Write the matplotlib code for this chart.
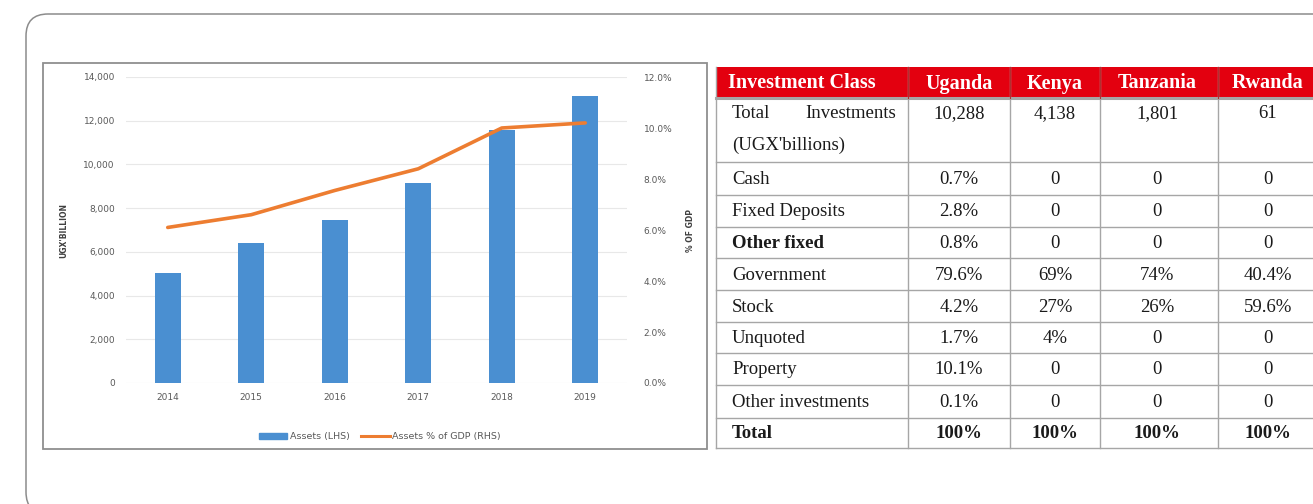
import matplotlib

matplotlib.use("Agg")
import matplotlib.pyplot as plt
from matplotlib.patches import FancyBboxPatch, Rectangle

# chart data
years = ["2014", "2015", "2016", "2017", "2018", "2019"]
assets = [5050, 6400, 7480, 9150, 11560, 13120]
assets_pct_gdp = [6.1, 6.6, 7.55, 8.4, 10.0, 10.2]

# table data
table_header = ["Investment Class", "Uganda", "Kenya", "Tanzania", "Rwanda"]
row_labels = ["Total Investments (UGX'billions)", "Cash", "Fixed Deposits", "Other fixed",
              "Government", "Stock", "Unquoted", "Property", "Other investments", "Total"]
uganda = ["10,288", "0.7%", "2.8%", "0.8%", "79.6%", "4.2%", "1.7%", "10.1%", "0.1%", "100%"]
kenya = ["4,138", "0", "0", "0", "69%", "27%", "4%", "0", "0", "100%"]
tanzania = ["1,801", "0", "0", "0", "74%", "26%", "0", "0", "0", "100%"]
rwanda = ["61", "0", "0", "0", "40.4%", "59.6%", "0", "0", "0", "100%"]
bold_rows = ["Other fixed", "Total"]

W, H = 1313, 504
BLUE = "#4a8fd1"
ORANGE = "#ed7d31"
GREY_TXT = "#595959"


def fig_box(x0, y0, x1, y1):
    # pixel box (top-left origin) -> figure fraction rect
    return [x0 / W, 1 - y1 / H, (x1 - x0) / W, (y1 - y0) / H]


fig = plt.figure(figsize=(W / 100, H / 100), dpi=100)
fig.patch.set_facecolor("white")

# background layer in pixel coordinates
bg = fig.add_axes([0, 0, 1, 1])
bg.set_xlim(0, W)
bg.set_ylim(H, 0)
bg.axis("off")
bg.add_patch(FancyBboxPatch((26, 14), 1360, 500, boxstyle="round,pad=0,rounding_size=22",
                            facecolor="white", edgecolor="#8c8c8c", linewidth=1.1))
bg.add_patch(Rectangle((43, 63), 664, 386, facecolor="white", edgecolor="#8f8f8f", linewidth=1.3))

# --- combo chart ---
ax = fig.add_axes(fig_box(126, 77, 627, 383))
x = range(len(years))
ax.bar(x, assets, width=0.31, color=BLUE, zorder=2)
ax.set_xlim(-0.5, len(years) - 0.5)
ax.set_ylim(0, 14000)
ax.set_yticks(range(0, 14001, 2000))
ax.set_yticklabels([f"{v:,}" for v in range(0, 14001, 2000)])
ax.set_xticks(list(x))
ax.set_xticklabels(years)
ax.grid(axis="y", color="#e8e8e8", linewidth=0.8, zorder=0)
ax.set_axisbelow(True)
for s in ax.spines.values():
    s.set_visible(False)
ax.tick_params(length=0, labelsize=6.5, labelcolor=GREY_TXT, pad=8)
ax.tick_params(axis="x", pad=7)
ax.set_ylabel("UGX'BILLION", fontsize=5.5, fontweight="bold", color="#404040", labelpad=11)

ax2 = ax.twinx()
ax2.plot(list(x), assets_pct_gdp, color=ORANGE, linewidth=2.6, solid_capstyle="round", zorder=3)
ax2.set_ylim(0, 12)
ax2.set_yticks(range(0, 13, 2))
ax2.set_yticklabels([f"{v:.1f}%" for v in range(0, 13, 2)])
for s in ax2.spines.values():
    s.set_visible(False)
ax2.tick_params(length=0, labelsize=6.5, labelcolor=GREY_TXT, pad=12)
ax2.set_ylabel("% OF GDP", fontsize=5.5, fontweight="bold", color="#404040", rotation=90, labelpad=10)

handles = [Rectangle((0, 0), 1, 1, color=BLUE), plt.Line2D([], [], color=ORANGE, linewidth=2.2)]
fig.legend(handles, ["Assets (LHS)", "Assets % of GDP (RHS)"], loc="center",
           bbox_to_anchor=(380 / W, 1 - 437 / H), ncol=2, frameon=False, fontsize=6.8,
           labelcolor=GREY_TXT, handlelength=3.0, handleheight=0.5, columnspacing=1.2, handletextpad=0.3)

# --- table ---
col_edges = [716, 908, 1010, 1100, 1218, 1340]
col_centers = [959, 1055, 1157, 1268]
row_edges = [67, 98, 162, 195, 227, 258, 290, 322, 353, 385, 418, 448]
tab = fig.add_axes([0, 0, 1, 1])
tab.set_xlim(0, W)
tab.set_ylim(H, 0)
tab.axis("off")
serif = "Liberation Serif"
RED = "#e3000f"
FS = 13.5

tab.add_patch(Rectangle((col_edges[0], row_edges[0]), col_edges[-1] - col_edges[0],
                        row_edges[1] - row_edges[0], facecolor=RED, edgecolor="none"))
for i, name in enumerate(table_header):
    cx = col_centers[i - 1] if i else col_edges[0] + 12
    tab.text(cx, (row_edges[0] + row_edges[1]) / 2 + 1, name, color="white", fontsize=14.5,
             fontweight="bold", family=serif, ha="left" if i == 0 else "center", va="center")

# grid lines
for yv in row_edges[1:]:
    lw = 2.2 if yv == row_edges[1] else 1.0
    tab.plot([col_edges[0], col_edges[-1]], [yv, yv], color="#a6a6a6", linewidth=lw)
for xv in col_edges[:-1]:
    tab.plot([xv, xv], [row_edges[0], row_edges[-1]], color="#a6a6a6", linewidth=1.0)
for xv in col_edges[1:-1]:
    tab.plot([xv, xv], [row_edges[0], row_edges[1]], color="#b03030", linewidth=0.8)

columns = [uganda, kenya, tanzania, rwanda]
for r, label in enumerate(row_labels):
    y0, y1 = row_edges[r + 1], row_edges[r + 2]
    weight = "bold" if label in bold_rows else "normal"
    if r == 0:
        ty = y0 + 16
        tab.text(col_edges[0] + 16, ty, "Total", fontsize=FS, family=serif, color="#1a1a1a", va="center")
        tab.text(col_edges[1] - 12, ty, "Investments", fontsize=FS, family=serif, color="#1a1a1a",
                 va="center", ha="right")
        tab.text(col_edges[0] + 16, ty + 31, "(UGX'billions)", fontsize=FS, family=serif,
                 color="#1a1a1a", va="center")
    else:
        ty = (y0 + y1) / 2 + 1
        tab.text(col_edges[0] + 16, ty, label, fontsize=FS, family=serif, color="#1a1a1a",
                 va="center", fontweight=weight)
    row_weight = "bold" if label == "Total" else "normal"
    for c, vals in enumerate(columns):
        tab.text(col_centers[c], ty, vals[r], fontsize=FS, family=serif, color="#1a1a1a",
                 ha="center", va="center", fontweight=row_weight)

fig.savefig("out.png", dpi=100)
